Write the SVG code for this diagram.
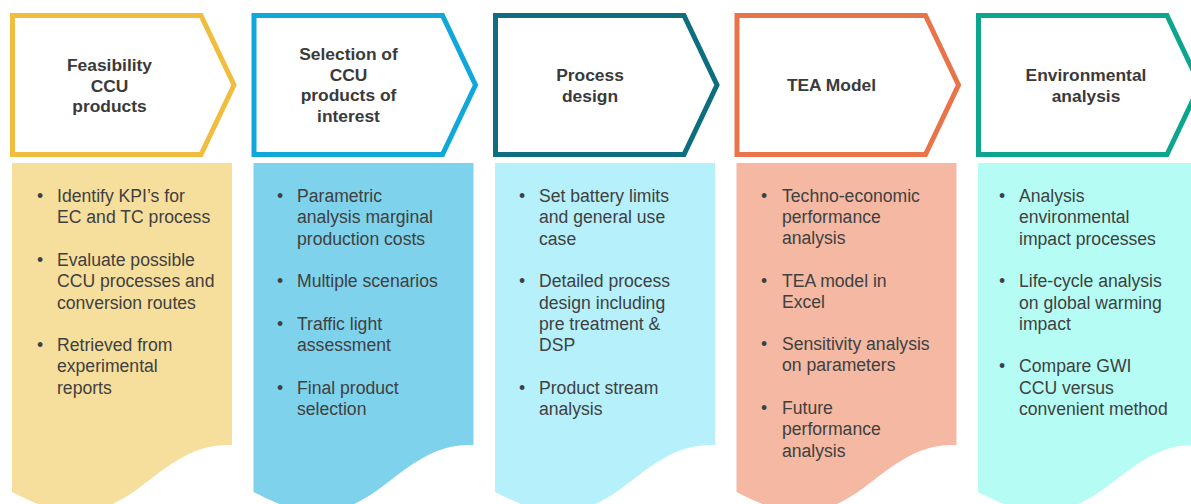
<svg xmlns="http://www.w3.org/2000/svg" xmlns:xlink="http://www.w3.org/1999/xlink" width="1191" height="504" viewBox="0 0 1191 504">
  <style>
    .chev { fill: #ffffff; stroke-width: 5; stroke-linejoin: miter; }
    .t { font-family: "Liberation Sans", Arial, sans-serif; font-size: 17.4px; font-weight: bold; fill: #3a3a3a; text-anchor: middle; }
    .b { font-family: "Liberation Sans", Arial, sans-serif; font-size: 17.6px; fill: #404040; }
  </style>
  <defs>
    <!-- step header: arrow-shaped outline, relative to its left edge -->
    <path id="chevron" d="M2.5,15.5 H191 L224,85 L191,154.5 H2.5 Z"/>
    <!-- detail panel with a wavy lower edge -->
    <path id="panel" d="M2,163 H222 V445 C192,444 172,455 142,478 C112,502 92,512 67,512 C42,512 22,502 2,492 Z"/>
  </defs>
  <rect width="1191" height="504" fill="#ffffff"/>

  <!-- Step 1 -->
  <g id="step-feasibility">
    <use xlink:href="#panel" x="10" fill="#F6DE9D"/>
    <use xlink:href="#chevron" x="10" class="chev" stroke="#F0BD3F"/>
    <text class="t" x="109.5" y="70.5">Feasibility</text>
    <text class="t" x="109.5" y="91.5">CCU</text>
    <text class="t" x="109.5" y="112">products</text>
    <g class="b">
      <text x="37" y="202">•</text>
      <text x="57" y="202">Identify KPI’s for</text>
      <text x="57" y="223.3">EC and TC process</text>
      <text x="37" y="265.9">•</text>
      <text x="57" y="265.9">Evaluate possible</text>
      <text x="57" y="287.2">CCU processes and</text>
      <text x="57" y="308.5">conversion routes</text>
      <text x="37" y="351.1">•</text>
      <text x="57" y="351.1">Retrieved from</text>
      <text x="57" y="372.4">experimental</text>
      <text x="57" y="393.7">reports</text>
    </g>
  </g>

  <!-- Step 2 -->
  <g id="step-selection">
    <use xlink:href="#panel" x="251.5" fill="#7ED2EB"/>
    <use xlink:href="#chevron" x="251.5" class="chev" stroke="#0FA8D8"/>
    <text class="t" x="348.5" y="59.5">Selection of</text>
    <text class="t" x="348.5" y="80.5">CCU</text>
    <text class="t" x="348.5" y="101">products of</text>
    <text class="t" x="348.5" y="122">interest</text>
    <g class="b">
      <text x="277" y="202">•</text>
      <text x="297" y="202">Parametric</text>
      <text x="297" y="223.3">analysis marginal</text>
      <text x="297" y="244.6">production costs</text>
      <text x="277" y="287.2">•</text>
      <text x="297" y="287.2">Multiple scenarios</text>
      <text x="277" y="329.8">•</text>
      <text x="297" y="329.8">Traffic light</text>
      <text x="297" y="351.1">assessment</text>
      <text x="277" y="393.7">•</text>
      <text x="297" y="393.7">Final product</text>
      <text x="297" y="415">selection</text>
    </g>
  </g>

  <!-- Step 3 -->
  <g id="step-process">
    <use xlink:href="#panel" x="493" fill="#B6F0FB"/>
    <use xlink:href="#chevron" x="493" class="chev" stroke="#0E6E80"/>
    <text class="t" x="590" y="81">Process</text>
    <text class="t" x="590" y="101.7">design</text>
    <g class="b">
      <text x="519" y="202">•</text>
      <text x="539" y="202">Set battery limits</text>
      <text x="539" y="223.3">and general use</text>
      <text x="539" y="244.6">case</text>
      <text x="519" y="287.2">•</text>
      <text x="539" y="287.2">Detailed process</text>
      <text x="539" y="308.5">design including</text>
      <text x="539" y="329.8">pre treatment &amp;</text>
      <text x="539" y="351.1">DSP</text>
      <text x="519" y="393.7">•</text>
      <text x="539" y="393.7">Product stream</text>
      <text x="539" y="415">analysis</text>
    </g>
  </g>

  <!-- Step 4 -->
  <g id="step-tea">
    <use xlink:href="#panel" x="734.5" fill="#F4B8A3"/>
    <use xlink:href="#chevron" x="734.5" class="chev" stroke="#EA744A"/>
    <text class="t" x="831.5" y="90.7">TEA Model</text>
    <g class="b">
      <text x="761" y="201.5">•</text>
      <text x="782" y="201.5">Techno-economic</text>
      <text x="782" y="222.8">performance</text>
      <text x="782" y="244.1">analysis</text>
      <text x="761" y="286.5">•</text>
      <text x="782" y="286.5">TEA model in</text>
      <text x="782" y="307.8">Excel</text>
      <text x="761" y="350.1">•</text>
      <text x="782" y="350.1">Sensitivity analysis</text>
      <text x="782" y="371.4">on parameters</text>
      <text x="761" y="414">•</text>
      <text x="782" y="414">Future</text>
      <text x="782" y="435.3">performance</text>
      <text x="782" y="456.6">analysis</text>
    </g>
  </g>

  <!-- Step 5 -->
  <g id="step-environmental">
    <use xlink:href="#panel" x="976" fill="#B5FDF4"/>
    <use xlink:href="#chevron" x="976" class="chev" stroke="#0CA58E"/>
    <text class="t" x="1086" y="81">Environmental</text>
    <text class="t" x="1086" y="101.7">analysis</text>
    <g class="b">
      <text x="999" y="202">•</text>
      <text x="1019" y="202">Analysis</text>
      <text x="1019" y="223.3">environmental</text>
      <text x="1019" y="244.6">impact processes</text>
      <text x="999" y="287.2">•</text>
      <text x="1019" y="287.2">Life-cycle analysis</text>
      <text x="1019" y="308.5">on global warming</text>
      <text x="1019" y="329.8">impact</text>
      <text x="999" y="372.4">•</text>
      <text x="1019" y="372.4">Compare GWI</text>
      <text x="1019" y="393.7">CCU versus</text>
      <text x="1019" y="415">convenient method</text>
    </g>
  </g>
</svg>
